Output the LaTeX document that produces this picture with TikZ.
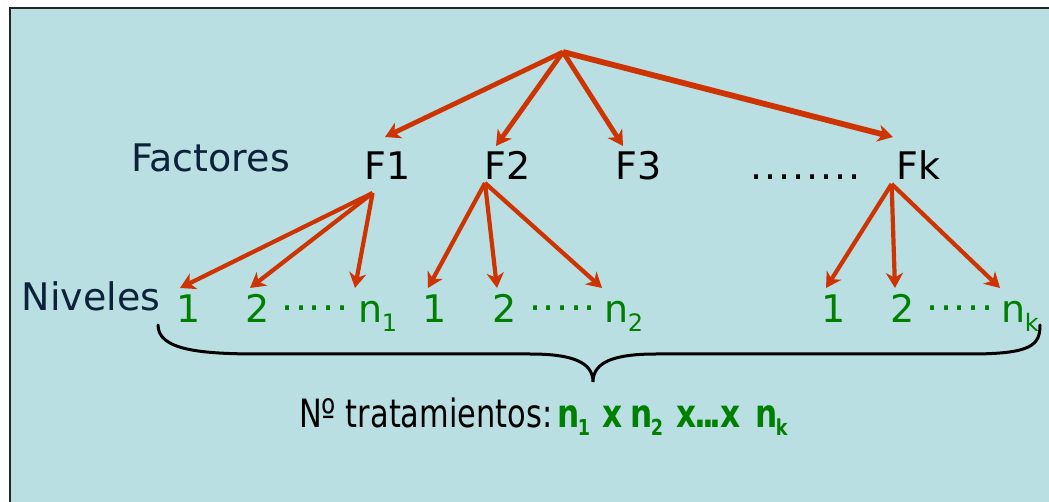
\documentclass[tikz,border=0pt]{standalone}
\usepackage{fontspec}
\setmainfont{DejaVu Sans}
\usetikzlibrary{arrows.meta}
\definecolor{panelblue}{RGB}{185,223,227}
\definecolor{labelnavy}{RGB}{12,34,58}
\definecolor{levelgreen}{RGB}{0,128,0}
\definecolor{arrowred}{RGB}{206,52,2}
\newcommand\lvdots{\raisebox{12pt}{.\kern1.5pt.\kern1.5pt.\kern1.5pt.\kern1.5pt.}}
\newcommand\lvsub[1]{\kern-1pt\raisebox{-9pt}{\fontsize{24}{24}\selectfont #1}}
\newcommand\prodsub[1]{\kern-2.5pt\raisebox{-8pt}{\fontsize{22}{22}\selectfont #1}}
\begin{document}
\begin{tikzpicture}[x=1pt,y=-1pt,
  txt/.style={inner sep=0pt,anchor=base west,font=\fontsize{38}{40}\selectfont},
  factor/.style={txt,text=black},
  caption/.style={txt,text=labelnavy},
  level/.style={inner sep=0pt,anchor=base,text=levelgreen,font=\fontsize{38}{40}\selectfont},
  levelw/.style={level,anchor=base west},
  prod/.style={txt,text=levelgreen,font=\fontsize{39}{40}\selectfont\bfseries},
  arr/.style={draw=arrowred,line width=4.2pt,line join=round,
    -{Stealth[length=15pt,width=17pt,inset=4.5pt]}},
  brace/.style={draw=black,line width=3pt,line cap=round}]
\useasboundingbox (0,0) rectangle (1049,502);
\clip (0,0) rectangle (1049,502);
\fill[white] (0,0) rectangle (1049,502);
\draw[fill=panelblue,draw=black!85,line width=2.5pt] (10,8) rectangle (1080,530);

% row labels
\node[caption] (factores) at (131,172) {Factores};
\node[caption] (niveles) at (21.5,311) {Niveles};

% factors
\coordinate (root) at (563,52);
\node[factor] (F1) at (364,180) {F1};
\node[factor] (F2) at (484,180) {F2};
\node[factor] (F3) at (615,180) {F3};
\node[factor] (Fdots) at (750,180) {.\kern2pt.\kern2pt.\kern2pt.\kern2pt.\kern2pt.\kern2pt.\kern2pt.};
\node[factor] (Fk) at (896,180) {Fk};

% levels of F1
\node[level] (a1) at (188.5,323) {1};
\node[level] (a2) at (257.5,323) {2};
\node[level] (ad) at (315,323) {\lvdots};
\node[levelw] (an) at (358.5,323) {n\lvsub{1}};
% levels of F2
\node[level] (b1) at (435,323) {1};
\node[level] (b2) at (505,323) {2};
\node[level] (bd) at (562.5,323) {\lvdots};
\node[levelw] (bn) at (604.5,323) {n\lvsub{2}};
% levels of Fk
\node[level] (k1) at (833.5,323) {1};
\node[level] (k2) at (903,323) {2};
\node[level] (kd) at (960,323) {\lvdots};
\node[levelw] (kn) at (1001.5,323) {n\lvsub{k}};

% root to factors
\draw[arr,line width=4.8pt] (root) -- ([shift={(21,-43)}]F1.base west);
\draw[arr,line width=4.8pt] (root) -- ([shift={(12,-34)}]F2.base west);
\draw[arr,line width=4.8pt] (root) -- ([shift={(8,-34)}]F3.base west);
\draw[arr,line width=5.8pt] (root) -- ([shift={(-3,-43)}]Fk.base west);

% factors to levels
\draw[arr] ([shift={(8.6,13)}]F1.base west) -- ([shift={(-8.5,-35)}]a1.base);
\draw[arr] ([shift={(8.6,13)}]F1.base west) -- ([shift={(-7.5,-35)}]a2.base);
\draw[arr] ([shift={(8.6,13)}]F1.base west) -- ([shift={(-3.5,-35)}]an.base west);
\draw[arr] ([shift={(1,3)}]F2.base west) -- ([shift={(-7,-35)}]b1.base);
\draw[arr] ([shift={(1,3)}]F2.base west) -- ([shift={(-8,-35)}]b2.base);
\draw[arr] ([shift={(1,3)}]F2.base west) -- ([shift={(-2.5,-35)}]bn.base west);
\draw[arr] ([shift={(-4.4,4)}]Fk.base west) -- ([shift={(-7.5,-35)}]k1.base);
\draw[arr] ([shift={(-4.4,4)}]Fk.base west) -- ([shift={(-8,-35)}]k2.base);
\draw[arr] ([shift={(-4.4,4)}]Fk.base west) -- ([shift={(-1.5,-35)}]kn.base west);

% brace under all levels
\draw[brace] (158,325) .. controls (158,350) and (200,354) .. (260,354)
  -- (530,354) .. controls (572,354) and (593,362) .. (593,382)
  .. controls (593,362) and (614,354) .. (656,354)
  -- (970,354) .. controls (1032,354) and (1040,345) .. (1040,325);

% number of treatments
\node[txt,text=black,font=\fontsize{39}{40}\selectfont] (ntrat) at (299,427) {\scalebox{0.78}[1]{Nº tratamientos:}};
\node[prod] (p1) at (557.5,427) {\scalebox{0.8}[1]{n\prodsub{1}}};
\node[prod] (p2) at (602,427) {\scalebox{0.8}[1]{x}};
\node[prod] (p3) at (630.5,427) {\scalebox{0.8}[1]{n\prodsub{2}}};
\node[prod] (p4) at (676,427) {\scalebox{0.8}[1]{x\kern-2pt.\kern-5.4pt.\kern-5.4pt.\kern-2pt x}};
\node[prod] (p5) at (755.5,427) {\scalebox{0.8}[1]{n\prodsub{k}}};
\end{tikzpicture}
\end{document}
